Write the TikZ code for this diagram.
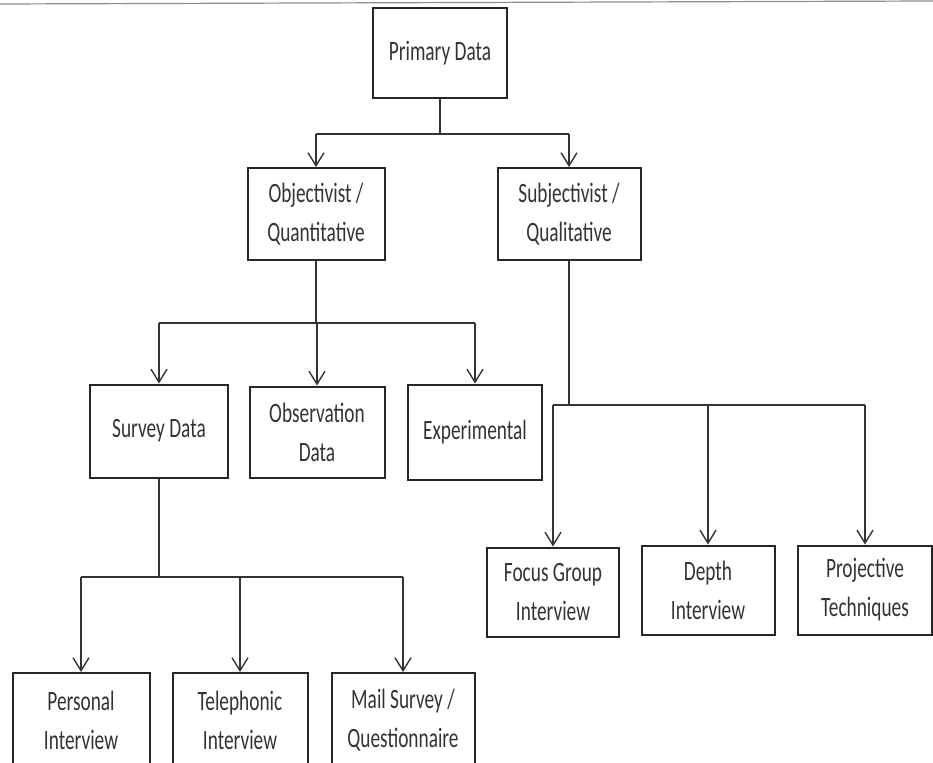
\documentclass[tikz,border=0pt]{standalone}
\usepackage{fontspec}
\setmainfont{Carlito}[FakeStretch=0.69]
\usetikzlibrary{arrows.meta}
\begin{document}
\begin{tikzpicture}[x=1pt,y=-1pt,
  box/.style={draw=black!85, line width=2pt, rectangle, align=center,
    inner sep=0pt, font=\fontsize{28}{39}\selectfont, text=black!80},
  link/.style={draw=black!80, line width=2pt},
  arr/.style={link, -{Straight Barb[length=13pt,width=16pt,line width=1.4pt]}}]
\clip (0,0) rectangle (933,762);
\fill[white] (0,0) rectangle (933,762);
% page edge at the top
\draw[black!45, line width=1.2pt] (0,4) -- (933,1);

% level 0
\node[box, minimum width=134pt, minimum height=90pt] (prim) at (440,53) {Primary Data};
% level 1
\node[box, minimum width=137pt, minimum height=92pt] (obj) at (316,214) {Objectivist /\\Quantitative};
\node[box, minimum width=143pt, minimum height=92pt] (subj) at (569,214) {Subjectivist /\\Qualitative};
% level 2, quantitative branch
\node[box, minimum width=138pt, minimum height=93pt] (surv) at (159,431) {Survey Data};
\node[box, minimum width=135pt, minimum height=91pt] (obs) at (317,432) {Observation\\Data};
\node[box, minimum width=134pt, minimum height=95pt] (exp) at (475,432) {Experimental};
% level 2, qualitative branch
\node[box, minimum width=132pt, minimum height=89pt] (focus) at (553,592) {Focus Group\\Interview};
\node[box, minimum width=133pt, minimum height=89pt] (depth) at (708,590) {Depth\\Interview};
\node[box, minimum width=134pt, minimum height=89pt] (proj) at (865,590) {Projective\\Techniques};
% level 3, survey methods
\node[box, minimum width=137pt, minimum height=94pt] (pers) at (81,720) {Personal\\Interview};
\node[box, minimum width=135pt, minimum height=94pt] (tel) at (240,720) {Telephonic\\Interview};
\node[box, minimum width=143pt, minimum height=94pt] (mail) at (403,720) {Mail Survey /\\Questionnaire};

% bus lines
\coordinate (b0) at (440,134);
\coordinate (b1) at (316,323);
\coordinate (b2) at (569,405);
\coordinate (b3) at (159,577);

\draw[link] (prim.south) -- (b0);
\draw[link] (obj |- b0) -- (subj |- b0);
\draw[arr] (obj |- b0) -- (obj.north);
\draw[arr] (subj |- b0) -- (subj.north);

\draw[link] (obj.south) -- (b1);
\draw[link] (surv |- b1) -- (exp |- b1);
\draw[arr] (surv |- b1) -- (surv.north);
\draw[arr] (obs |- b1) -- (obs.north);
\draw[arr] (exp |- b1) -- (exp.north);

\draw[link] (subj.south) -- (b2);
\draw[link] (focus |- b2) -- (proj |- b2);
\draw[arr] (focus |- b2) -- (focus.north);
\draw[arr] (depth |- b2) -- (depth.north);
\draw[arr] (proj |- b2) -- (proj.north);

\draw[link] (surv.south) -- (b3);
\draw[link] (pers |- b3) -- (mail |- b3);
\draw[arr] (pers |- b3) -- (pers.north);
\draw[arr] (tel |- b3) -- (tel.north);
\draw[arr] (mail |- b3) -- (mail.north);
\end{tikzpicture}
\end{document}
